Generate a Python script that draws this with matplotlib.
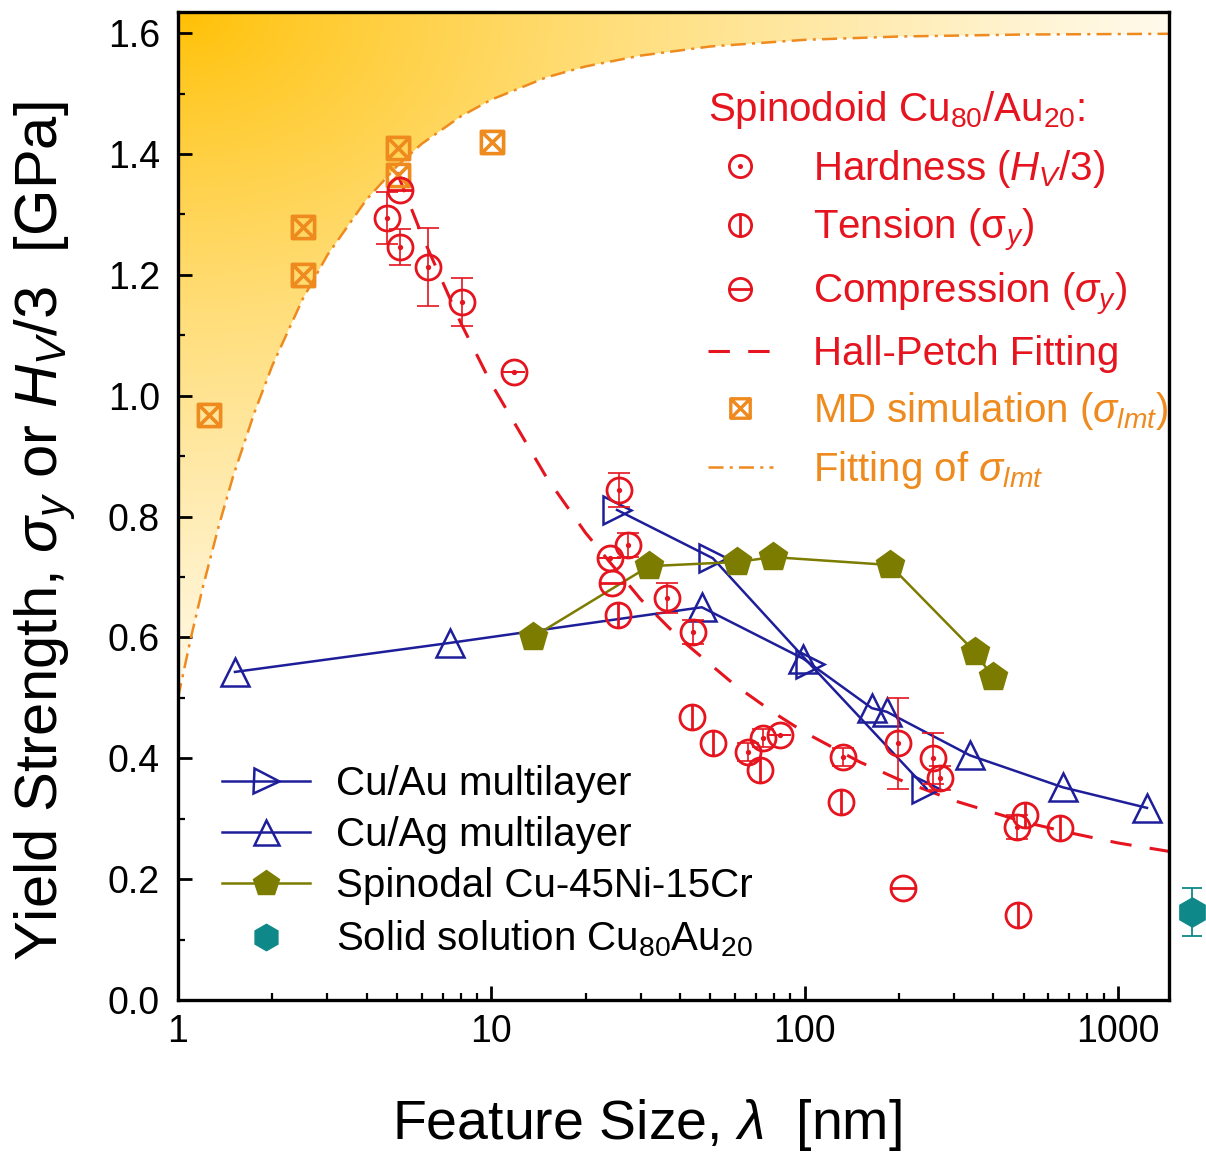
import numpy as np
import matplotlib
matplotlib.use("Agg")
import matplotlib.pyplot as plt
from matplotlib.path import Path
from matplotlib.patches import Polygon
from matplotlib.lines import Line2D

# Fonts (Arial-like) and mathtext in the same family
plt.rcParams["font.family"] = "Liberation Sans"
plt.rcParams["mathtext.fontset"] = "custom"
plt.rcParams["mathtext.rm"] = "Liberation Sans"
plt.rcParams["mathtext.it"] = "Liberation Sans:italic"

# ---- data ----
# Spinodoid Cu80/Au20
hv_x = [4.65, 5.12, 6.27, 8.06, 11.8, 23.9, 25.6, 27.3, 36.3, 44, 66, 73.6, 83.5, 133, 199, 257, 270, 478]
hv_y = [1.294, 1.246, 1.213, 1.155, 1.04, 0.731, 0.844, 0.753, 0.665, 0.609, 0.41, 0.433, 0.438, 0.402, 0.425, 0.40, 0.367, 0.286]
hv_err = [0.043, 0.03, 0.065, 0.04, 0, 0, 0.028, 0.02, 0.025, 0.02, 0.015, 0.015, 0, 0.015, 0.075, 0.042, 0.02, 0.02]

ten_x = [25.4, 43.7, 51, 72, 131, 480, 505, 653]
ten_y = [0.637, 0.468, 0.425, 0.38, 0.328, 0.141, 0.306, 0.285]

com_x = [5.12, 24.3, 206]
com_y = [1.34, 0.69, 0.185]

# Hall-Petch fitting line
hp_x = [5, 6, 8, 10, 15, 20, 30, 40, 60, 80, 100, 150, 200, 300, 500, 700, 1000, 1456]
hp_y = [1.370, 1.266, 1.120, 1.020, 0.865, 0.773, 0.663, 0.598, 0.521, 0.475, 0.443, 0.394, 0.365, 0.330, 0.295, 0.277, 0.260, 0.246]

# MD simulation
md_x = [1.256, 2.51, 2.51, 5.04, 5.04, 10.05]
md_y = [0.968, 1.279, 1.20, 1.41, 1.365, 1.42]

# Fitting of sigma_lmt
lmt_x = [1, 1.1, 1.2, 1.35, 1.5, 1.75, 2, 2.5, 3, 4, 5, 6, 8, 10, 15, 20, 30, 50, 100, 200, 500, 1456]
lmt_y = [0.5, 0.6, 0.683, 0.785, 0.867, 0.971, 1.05, 1.16, 1.233, 1.325, 1.38, 1.417, 1.4625,
         1.49, 1.527, 1.545, 1.563, 1.578, 1.589, 1.5945, 1.5978, 1.599]

# Other materials
cuau_x = [25.2, 51, 104, 245]
cuau_y = [0.811, 0.731, 0.556, 0.35]

cuag_x = [1.52, 7.37, 47, 99, 164, 183, 337, 668, 1239]
cuag_y = [0.543, 0.591, 0.650, 0.565, 0.483, 0.477, 0.405, 0.352, 0.318]

spin_x = [13.6, 31.9, 61, 79.3, 187, 350, 399]
spin_y = [0.601, 0.718, 0.725, 0.733, 0.72, 0.576, 0.534]

ss_x = [1725]
ss_y = [0.146]
ss_err = [0.04]

# colours
red = "#E5141E"
orange = "#EE8A1E"
navy = "#1E1E9A"
olive = "#7C7C00"
teal = "#0E8888"

# custom marker shapes
circ = Path.unit_circle()
odot = Path.make_compound_path(circ, Path.circle((0, 0), 0.1))
ophi = Path.make_compound_path(circ, Path([(0, -1), (0, 1)], [Path.MOVETO, Path.LINETO]))
ominus = Path.make_compound_path(circ, Path([(-1, 0), (1, 0)], [Path.MOVETO, Path.LINETO]))
boxx = Path([(-1, -1), (1, -1), (1, 1), (-1, 1), (-1, -1), (-1, -1), (1, 1), (-1, 1), (1, -1)],
            [Path.MOVETO, Path.LINETO, Path.LINETO, Path.LINETO, Path.CLOSEPOLY,
             Path.MOVETO, Path.LINETO, Path.MOVETO, Path.LINETO])

fig = plt.figure(figsize=(12.06, 11.58), dpi=100)
ax = fig.add_axes([0.1476, 0.1364, 0.8217, 0.8532])
ax.set_xscale("log")

# gradient fill above the sigma_lmt curve
ny, nx = 300, 300
xx, yy = np.meshgrid(np.linspace(0, 1, nx), np.linspace(1, 0, ny))
w = np.clip(np.hypot(xx / 1.1, (1 - yy) / 0.78), 0, 1)
gold = np.array([1.0, 0.75, 0.0])
img = gold + (np.ones(3) - gold) * (w[..., None] ** 0.8)
im = ax.imshow(img, extent=[0, 1, 0, 1], transform=ax.transAxes, aspect="auto", zorder=0)
verts = list(zip(lmt_x, lmt_y)) + [(1456, 1.7), (1, 1.7)]
clip = Polygon(verts, closed=True, transform=ax.transData, facecolor="none", edgecolor="none")
ax.add_patch(clip)
im.set_clip_path(clip)

# fitting lines
ax.plot(lmt_x, lmt_y, color=orange, lw=1.8, dashes=(6, 2.5, 1.2, 2.5), zorder=2)
ax.plot(hp_x, hp_y, color=red, lw=2.2, dashes=(7, 6), zorder=2)

# other materials
ax.plot(cuag_x, cuag_y, color=navy, lw=1.8, marker="^", ms=20, mfc="none", mec=navy, mew=1.8, zorder=3)
ax.plot(cuau_x, cuau_y, color=navy, lw=1.8, marker=">", ms=20, mfc="none", mec=navy, mew=1.8, zorder=3)
ax.plot(spin_x, spin_y, color=olive, lw=1.8, marker="p", ms=21, mfc=olive, mec=olive, zorder=3)
ax.errorbar(ss_x, ss_y, yerr=ss_err, fmt="h", color=teal, ms=21, ecolor=teal, elinewidth=1.3,
            capsize=7, capthick=1.3, clip_on=False, zorder=5)

# MD simulation
ax.plot(md_x, md_y, ls="none", marker=boxx, ms=16, mfc="none", mec=orange, mew=2.6, zorder=4)

# spinodoid data
ax.errorbar(hv_x, hv_y, yerr=hv_err, fmt="none", ecolor=red, elinewidth=1.2, capsize=8, capthick=1.2, zorder=4)
ax.plot(hv_x, hv_y, ls="none", marker=odot, ms=18, mfc="none", mec=red, mew=2.0, zorder=5)
ax.plot(ten_x, ten_y, ls="none", marker=ophi, ms=18, mfc="none", mec=red, mew=2.0, zorder=5)
ax.plot(com_x, com_y, ls="none", marker=ominus, ms=18, mfc="none", mec=red, mew=2.0, zorder=5)

# axes
ax.set_xlim(1, 1456)
ax.set_ylim(0, 1.635)
ax.set_xticks([1, 10, 100, 1000])
ax.set_xticklabels(["1", "10", "100", "1000"])
ax.set_yticks(np.arange(0, 1.61, 0.2))
ax.set_yticklabels(["%.1f" % v for v in np.arange(0, 1.61, 0.2)])
ax.set_yticks(np.arange(0.1, 1.61, 0.2), minor=True)
ax.tick_params(which="major", direction="in", length=10, width=2, labelsize=27, pad=10)
ax.tick_params(which="minor", direction="in", length=5, width=1.6)
ax.tick_params(axis="y", which="major", pad=13)
for s in ax.spines.values():
    s.set_linewidth(2.4)

ax.set_xlabel(r"Feature Size, $\lambda$  [nm]", fontsize=40)
ax.set_ylabel(r"Yield Strength, $\sigma_y$ or $H_V$/3  [GPa]", fontsize=43)
ax.xaxis.set_label_coords(0.473, -0.098)
ax.yaxis.set_label_coords(-0.101, 0.474)

# legend: spinodoid (top right)
h1 = [
    Line2D([], [], ls="none", marker=odot, ms=16, mfc="none", mec=red, mew=2.0),
    Line2D([], [], ls="none", marker=ophi, ms=16, mfc="none", mec=red, mew=2.0),
    Line2D([], [], ls="none", marker=ominus, ms=16, mfc="none", mec=red, mew=2.0),
    Line2D([], [], color=red, lw=2.2, dashes=(7, 6)),
    Line2D([], [], ls="none", marker=boxx, ms=14, mfc="none", mec=orange, mew=2.4),
    Line2D([], [], color=orange, lw=1.8, dashes=(6, 2.5, 1.2, 2.5)),
]
l1 = ["Hardness ($H_V$/3)", r"Tension ($\mathrm{\sigma}_y$)", r"Compression ($\sigma_y$)",
      "Hall-Petch Fitting", r"MD simulation ($\sigma_{lmt}$)", r"Fitting of $\sigma_{lmt}$"]
leg1 = ax.legend(h1, l1, loc="upper left", bbox_to_anchor=(0.535, 0.922), frameon=False,
                 fontsize=29, handlelength=1.6, handletextpad=1.0, labelspacing=0.42,
                 borderpad=0, borderaxespad=0,
                 labelcolor=[red, red, red, red, orange, orange],
                 title=r"Spinodoid Cu$_{80}$/Au$_{20}$:", title_fontsize=29, alignment="left")
leg1.get_title().set_color(red)
ax.add_artist(leg1)

# legend: other materials (bottom left)
h2 = [
    Line2D([], [], color=navy, lw=1.8, marker=">", ms=18, mfc="none", mec=navy, mew=1.8),
    Line2D([], [], color=navy, lw=1.8, marker="^", ms=18, mfc="none", mec=navy, mew=1.8),
    Line2D([], [], color=olive, lw=1.8, marker="p", ms=19, mfc=olive, mec=olive),
    Line2D([], [], ls="none", marker="h", ms=19, mfc=teal, mec=teal),
]
l2 = ["Cu/Au multilayer", "Cu/Ag multilayer", "Spinodal Cu-45Ni-15Cr", r"Solid solution Cu$_{80}$Au$_{20}$"]
ax.legend(h2, l2, loc="upper left", bbox_to_anchor=(0.044, 0.238), frameon=False,
          fontsize=29, handlelength=2.2, handletextpad=0.65, labelspacing=0.33,
          borderpad=0, borderaxespad=0)

fig.savefig("out.png", dpi=100)
